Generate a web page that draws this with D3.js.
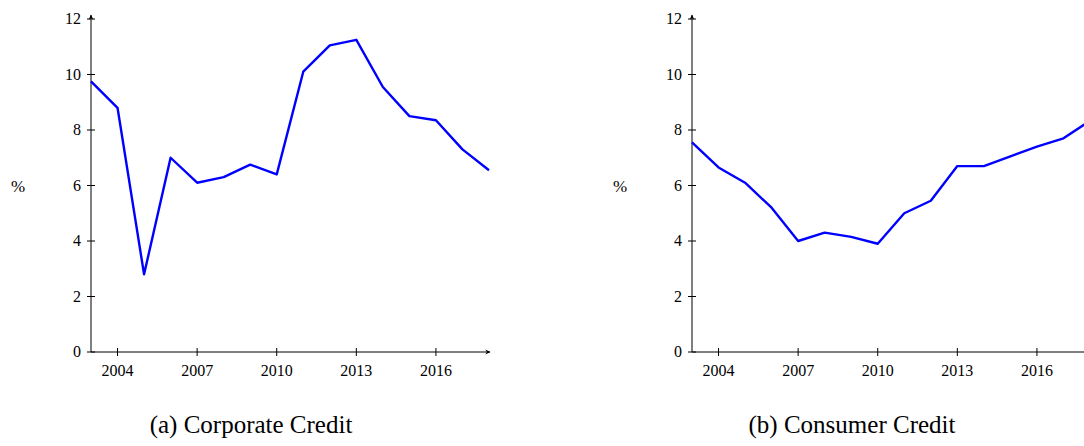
<!DOCTYPE html>
<html><head><meta charset="utf-8">
<script src="https://cdn.jsdelivr.net/npm/d3@7"></script>
<style>body{margin:0;background:#fff}svg{display:block}text{font-family:"Liberation Serif","DejaVu Serif",serif}</style>
</head><body>
<svg id="c" width="1084" height="446"></svg>
<script>
// data
const years = d3.range(2003, 2019);
const corporate = [9.75, 8.8, 2.8, 7.0, 6.1, 6.3, 6.75, 6.4, 10.1, 11.05, 11.25, 9.55, 8.5, 8.35, 7.3, 6.55];
const consumer = [7.55, 6.65, 6.1, 5.2, 4.0, 4.3, 4.15, 3.9, 5.0, 5.45, 6.7, 6.7, 7.05, 7.4, 7.7, 8.33];
const xTicks = [2004, 2007, 2010, 2013, 2016];
const yTicks = [0, 2, 4, 6, 8, 10, 12];

const svg = d3.select("#c");
svg.append("defs").append("marker").attr("id", "arr")
  .attr("viewBox", "0 0 10 10").attr("refX", 8).attr("refY", 5)
  .attr("markerWidth", 6).attr("markerHeight", 6).attr("orient", "auto")
  .append("path").attr("d", "M0,1 L9,5 L0,9 L3,5 Z").attr("fill", "#000");

function panel(x0, values, caption, pctX) {
  const g = svg.append("g");
  const x = d3.scaleLinear().domain([2003, 2018]).range([x0, x0 + 398]);
  const y = d3.scaleLinear().domain([0, 12]).range([352, 19]);

  g.append("line").attr("x1", x0).attr("x2", x0 + 399).attr("y1", 352).attr("y2", 352)
    .attr("stroke", "#000").attr("marker-end", "url(#arr)");
  g.append("line").attr("x1", x0).attr("x2", x0).attr("y1", 352).attr("y2", 15)
    .attr("stroke", "#000").attr("marker-end", "url(#arr)");

  xTicks.forEach(t => {
    g.append("line").attr("x1", x(t)).attr("x2", x(t)).attr("y1", 348).attr("y2", 356).attr("stroke", "#000");
    g.append("text").attr("x", x(t)).attr("y", 376).attr("text-anchor", "middle").attr("font-size", 16).text(t);
  });
  yTicks.forEach(t => {
    g.append("line").attr("x1", x0 - 4).attr("x2", x0 + 4).attr("y1", y(t)).attr("y2", y(t)).attr("stroke", "#000");
    g.append("text").attr("x", x0 - 10).attr("y", y(t) + 5).attr("text-anchor", "end").attr("font-size", 16).text(t);
  });

  g.append("path").datum(values)
    .attr("d", d3.line().x((d, i) => x(years[i])).y(d => y(d)))
    .attr("fill", "none").attr("stroke", "#0000ff").attr("stroke-width", 2.4).attr("stroke-linejoin", "round");

  g.append("text").attr("x", pctX).attr("y", 192).attr("text-anchor", "middle").attr("font-size", 17).text("%");
  g.append("text").attr("x", x0 + 160).attr("y", 433).attr("text-anchor", "middle").attr("font-size", 25).text(caption);
}

panel(91, corporate, "(a) Corporate Credit", 18);
panel(692, consumer, "(b) Consumer Credit", 620);
</script>
</body></html>
